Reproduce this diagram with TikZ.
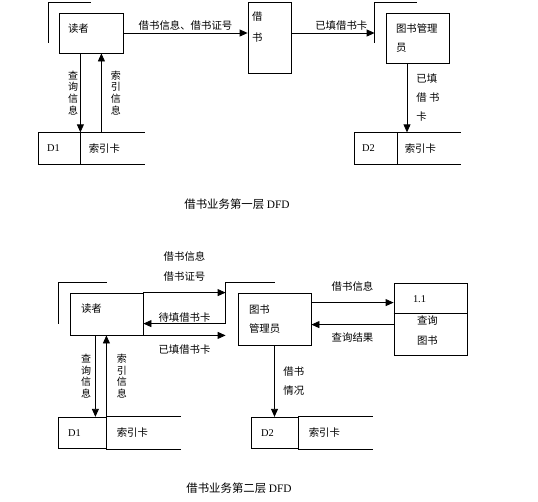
\documentclass[tikz,border=0pt]{standalone}
\usepackage{fontspec}
\setmainfont{Liberation Serif}
\newfontfamily\cjk{Noto Sans CJK SC}
\usetikzlibrary{arrows.meta,positioning}
\begin{document}
\begin{tikzpicture}[x=1pt, y=-1pt, line width=0.8pt, inner sep=0pt,
    font=\cjk\fontsize{10.4}{12.5}\selectfont,
    flow/.style={-{Triangle[length=8pt,width=7pt]}},
    main/.style={draw, rectangle},
    idcell/.style 2 args={draw, minimum height=31.5pt, text width=#1pt, inner xsep=#2pt, align=left, font=\rmfamily\fontsize{10.4}{12.5}\selectfont},
    namecell/.style 2 args={minimum height=31.5pt, text width=#1pt, inner xsep=#2pt, align=left},
    vlab/.style={align=center, font=\cjk\fontsize{10}{11.8}\selectfont},
    tall/.style={align=left, font=\cjk\fontsize{10.4}{19}\selectfont},
    caption/.style={font=\cjk\fontsize{11.4}{13}\selectfont}]

    \useasboundingbox (0,0) rectangle (538,501);

    % first level
    \node[main, minimum width=64pt, minimum height=40pt] (r1) at (91,33) {};
    \node[anchor=west] (r1t) at ([shift={(9,16)}]r1.north west) {读者};
    \node[main, minimum width=43pt, minimum height=71pt] (p1) at (269.5,37.5) {};
    \node[tall, font=\cjk\fontsize{10.4}{21}\selectfont, anchor=west] (p1t) at ([shift={(4,25.5)}]p1.north west) {借\\书};
    \node[main, minimum width=63pt, minimum height=50pt] (l1) at (417.5,38) {};
    \node[tall, anchor=west] (l1t) at ([shift={(10,25.5)}]l1.north west) {图书管理\\员};

    \coordinate (r1s) at ([shift={(-10,-10)}]r1.north west);
    \coordinate (l1s) at ([shift={(-11,-10)}]l1.north west);
    \draw ([yshift=-40pt]r1s) -- (r1s) -- ([xshift=42pt]r1s);
    \draw ([yshift=-40pt]l1s) -- (l1s) -- ([xshift=42pt]l1s);

    \node[idcell={24}{9}] (d1) at (59,148.5) {D1};
    \node[namecell={48}{8}, right=0pt of d1] (k1) {索引卡};
    \node[idcell={27}{8}] (d2) at (375.5,148.5) {D2};
    \node[namecell={49}{7}, right=0pt of d2] (k2) {索引卡};
    \draw (k1.north west) -- (k1.north east) (k1.south west) -- (k1.south east);
    \draw (k2.north west) -- (k2.north east) (k2.south west) -- (k2.south east);

    \draw[flow] (r1.east) -- (r1.east -| p1.west) node[midway, above=2pt] {借书信息、借书证号};
    \draw[flow] (r1.east -| p1.east) -- (r1.east -| l1s) node[pos=0.6, above=2pt] {已填借书卡};
    \draw[flow] (d1.north east |- r1.south) -- (d1.north east) node[midway, left=2pt, vlab] {查\\询\\信\\息};
    \draw[flow] ([xshift=21pt]k1.north west) -- ([xshift=21pt]k1.north west |- r1.south) node[midway, right=9pt, vlab] {索\\引\\信\\息};
    \draw[flow] ([xshift=-10.5pt]l1.south) -- ([xshift=-10.5pt]l1.south |- k2.north) node[midway, right=9pt, tall] {已填\\借\ 书\\卡};

    \node[caption] (c1) at (237,204) {借书业务第一层 {\rmfamily DFD}};

    % second level
    \node[main, minimum width=73pt, minimum height=42pt] (r2) at (106.5,314) {};
    \node[anchor=west] (r2t) at ([shift={(11,16)}]r2.north west) {读者};
    \node[main, minimum width=73pt, minimum height=52pt] (l2) at (274.5,319) {};
    \node[tall, anchor=west] (l2t) at ([shift={(11,26.5)}]l2.north west) {图书\\管理员};
    \node[main, minimum width=73pt, minimum height=72pt] (q) at (430.5,319) {};
    \node[anchor=west, font=\rmfamily\fontsize{10.4}{12.5}\selectfont] (qn) at ([shift={(19,17)}]q.north west) {1.1};
    \node[tall, font=\cjk\fontsize{10.4}{20}\selectfont, anchor=west] (qt) at ([shift={(23,48)}]q.north west) {查询\\图书};
    \draw ([yshift=-31pt]q.north west) -- ([yshift=-31pt]q.north east);

    \coordinate (r2s) at ([shift={(-11,-10)}]r2.north west);
    \coordinate (l2s) at ([shift={(-12,-10)}]l2.north west);
    \draw ([yshift=-41pt]r2s) -- (r2s) -- ([xshift=48pt]r2s);
    \draw ([yshift=-41pt]l2s) -- (l2s) -- ([xshift=49pt]l2s);

    \node[idcell={28}{10}] (b1) at (82,433) {D1};
    \node[namecell={54}{10}, right=0pt of b1] (n1) {索引卡};
    \node[idcell={27}{10}] (b2) at (274.5,433) {D2};
    \node[namecell={54}{10}, right=0pt of b2] (n2) {索引卡};
    \draw (n1.north west) -- (n1.north east) (n1.south west) -- (n1.south east);
    \draw (n2.north west) -- (n2.north east) (n2.south west) -- (n2.south east);

    \draw[flow] (r2.north east) -- (r2.north east -| l2s) node[midway, above=11pt, align=center, font=\cjk\fontsize{10.4}{20}\selectfont] {借书信息\\借书证号};
    \draw[flow] ([yshift=-41pt]l2s) -- ([yshift=-41pt]l2s -| r2.east) node[midway, above=1pt] {待填借书卡};
    \draw[flow] (r2.south east) -- (r2.south east -| l2s) node[midway, below=9pt] {已填借书卡};
    \draw[flow] ([yshift=-10pt]l2.north east) -- ([yshift=-10pt]l2.north east -| q.west) node[midway, above=11pt] {借书信息};
    \draw[flow] ([yshift=-32pt]l2.north east -| q.west) -- ([yshift=-32pt]l2.north east) node[midway, below=8pt] {查询结果};
    \draw[flow] (l2.south) -- (b2.north) node[midway, right=8.5pt, align=left, font=\cjk\fontsize{10.4}{19}\selectfont] {借书\\情况};
    \draw[flow] ([xshift=-11pt]b1.north east |- r2.south) -- ([xshift=-11pt]b1.north east) node[midway, left=4pt, vlab] {查\\询\\信\\息};
    \draw[flow] (b1.north east) -- (b1.north east |- r2.south) node[midway, right=10pt, vlab] {索\\引\\信\\息};

    \node[caption] (c2) at (239,488) {借书业务第二层 {\rmfamily DFD}};

\end{tikzpicture}
\end{document}
